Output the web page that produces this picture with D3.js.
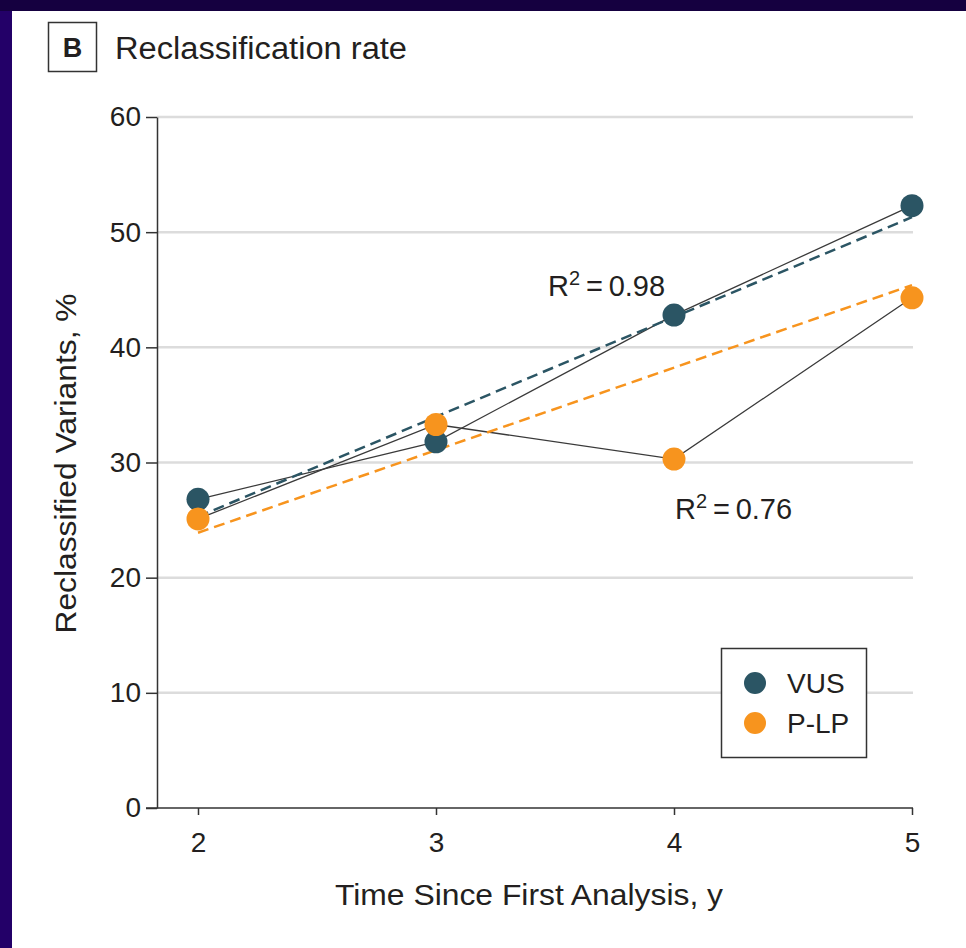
<!DOCTYPE html>
<html>
<head>
<meta charset="utf-8">
<script src="https://cdn.jsdelivr.net/npm/d3@7"></script>
<style>
  body { margin: 0; background: #ffffff; }
  svg text { font-family: "Liberation Sans Narrow", "Liberation Sans", sans-serif; fill: #231f20; }
</style>
</head>
<body>
<svg id="drawing_region"></svg>
<script>
// data
const years = [2, 3, 4, 5];
const vus = [26.8, 31.8, 42.8, 52.3];
const plp = [25.1, 33.3, 30.3, 44.3];
// dashed fit lines, values at first and last year
const vusTrend = [25.3, 51.3];
const plpTrend = [23.9, 45.4];
const yTicks = [0, 10, 20, 30, 40, 50, 60];
const seriesNames = ["VUS", "P-LP"];
const seriesColors = ["#2b5564", "#f7941e"];
const r2Labels = ["0.98", "0.76"];

const width = 966, height = 948;
const margin = { left: 157, right: 53, top: 117, bottom: 141 };

const svg = d3.select('#drawing_region')
    .attr('width', width)
    .attr('height', height);

// frame
svg.append('rect').attr('width', width).attr('height', height).attr('fill', '#ffffff');
svg.append('rect').attr('x', 0).attr('y', 0).attr('width', 12).attr('height', height).attr('fill', '#230068');
svg.append('rect').attr('x', 0).attr('y', 0).attr('width', width).attr('height', 11).attr('fill', '#150040');

const x = d3.scaleLinear()
    .domain([2, 5])
    .range([198, 912]);

const y = d3.scaleLinear()
    .domain([0, 60])
    .range([height - margin.bottom + 1, margin.top]);

// title
svg.append('rect')
    .attr('x', 48.5).attr('y', 22.5)
    .attr('width', 48).attr('height', 49)
    .attr('fill', 'none')
    .attr('stroke', '#333').attr('stroke-width', 1.5);
svg.append('text')
    .attr('x', 72.5).attr('y', 57)
    .attr('text-anchor', 'middle')
    .attr('font-size', 27).attr('font-weight', 'bold')
    .text('B');
svg.append('text')
    .attr('x', 115).attr('y', 59)
    .attr('font-size', 31)
    .attr('textLength', 292).attr('lengthAdjust', 'spacingAndGlyphs')
    .text('Reclassification rate');

// gridlines
svg.append('g')
    .selectAll('line')
    .data(yTicks.filter(d => d > 0))
    .join('line')
    .attr('x1', margin.left).attr('x2', 913)
    .attr('y1', d => y(d)).attr('y2', d => y(d))
    .attr('stroke', '#dcdcdc').attr('stroke-width', 2.5);

// axes
const yAxis = svg.append('g')
    .attr('transform', `translate(${margin.left},0)`)
    .call(d3.axisLeft(y).tickValues(yTicks).tickFormat(d3.format('d')).tickSize(11).tickPadding(5).tickSizeOuter(0));
const xAxis = svg.append('g')
    .attr('transform', `translate(0,${y(0)})`)
    .call(d3.axisBottom(x).tickValues(years).tickFormat(d3.format('d')).tickSize(7).tickPadding(12).tickSizeOuter(0));

[yAxis, xAxis].forEach(g => {
    g.selectAll('.domain').attr('stroke', '#333').attr('stroke-width', 1.5);
    g.selectAll('.tick line').attr('stroke', '#333').attr('stroke-width', 1.5);
    g.selectAll('.tick text').attr('font-size', 28).attr('font-family', null).attr('fill', '#231f20');
});
// x axis line runs under the 0 tick
xAxis.select('.domain').attr('d', `M${margin.left - 11},0H913`);
xAxis.selectAll('.tick text').attr('dy', '0.9em');

// axis titles
svg.append('text')
    .attr('transform', `translate(76,${(y(0) + y(60)) / 2 + 1}) rotate(-90)`)
    .attr('text-anchor', 'middle')
    .attr('font-size', 30)
    .attr('textLength', 340).attr('lengthAdjust', 'spacingAndGlyphs')
    .text('Reclassified Variants, %');
svg.append('text')
    .attr('x', 529).attr('y', 905)
    .attr('text-anchor', 'middle')
    .attr('font-size', 30)
    .attr('textLength', 388).attr('lengthAdjust', 'spacingAndGlyphs')
    .text('Time Since First Analysis, y');

const series = [vus, plp].map((vals, i) => ({
    name: seriesNames[i],
    color: seriesColors[i],
    points: years.map((yr, j) => ({ x: yr, y: vals[j] })),
    trend: [{ x: years[0], y: [vusTrend, plpTrend][i][0] }, { x: years[years.length - 1], y: [vusTrend, plpTrend][i][1] }]
}));

const line = d3.line().x(d => x(d.x)).y(d => y(d.y));

// connecting lines
svg.append('g')
    .selectAll('path')
    .data(series)
    .join('path')
    .attr('d', d => line(d.points))
    .attr('fill', 'none')
    .attr('stroke', '#3a3a3a')
    .attr('stroke-width', 1.3);

// fitted trend lines
svg.append('g')
    .selectAll('path')
    .data(series)
    .join('path')
    .attr('d', d => line(d.trend))
    .attr('fill', 'none')
    .attr('stroke', d => d.color)
    .attr('stroke-width', 2.5)
    .attr('stroke-dasharray', '11,6');

// points
series.forEach(s => {
    svg.append('g')
        .selectAll('circle')
        .data(s.points)
        .join('circle')
        .attr('cx', d => x(d.x))
        .attr('cy', d => y(d.y))
        .attr('r', 11.5)
        .attr('fill', s.color);
});

// R squared labels
const r2Pos = [{ x: 548, y: 296 }, { x: 675, y: 519 }];
r2Labels.forEach((lab, i) => {
    const t = svg.append('text')
        .attr('x', r2Pos[i].x).attr('y', r2Pos[i].y)
        .attr('font-size', 29);
    t.append('tspan').text('R');
    t.append('tspan').attr('dy', -11).attr('font-size', 20).text('2');
    t.append('tspan').attr('dy', 11).text('\u2009=\u2009' + lab);
});

// legend
const legend = svg.append('g').attr('transform', 'translate(721,648)');
legend.append('rect')
    .attr('x', 0.5).attr('y', 0.5)
    .attr('width', 145).attr('height', 109)
    .attr('fill', '#ffffff')
    .attr('stroke', '#333').attr('stroke-width', 1.5);
const items = legend.selectAll('.item')
    .data(series)
    .join('g')
    .attr('class', 'item')
    .attr('transform', (d, i) => `translate(0,${35 + i * 40})`);
items.append('circle')
    .attr('cx', 34).attr('cy', 0)
    .attr('r', 11)
    .attr('fill', d => d.color);
items.append('text')
    .attr('x', 66).attr('y', 0)
    .attr('dy', '0.36em')
    .attr('font-size', 28)
    .text(d => d.name);
</script>
</body>
</html>
